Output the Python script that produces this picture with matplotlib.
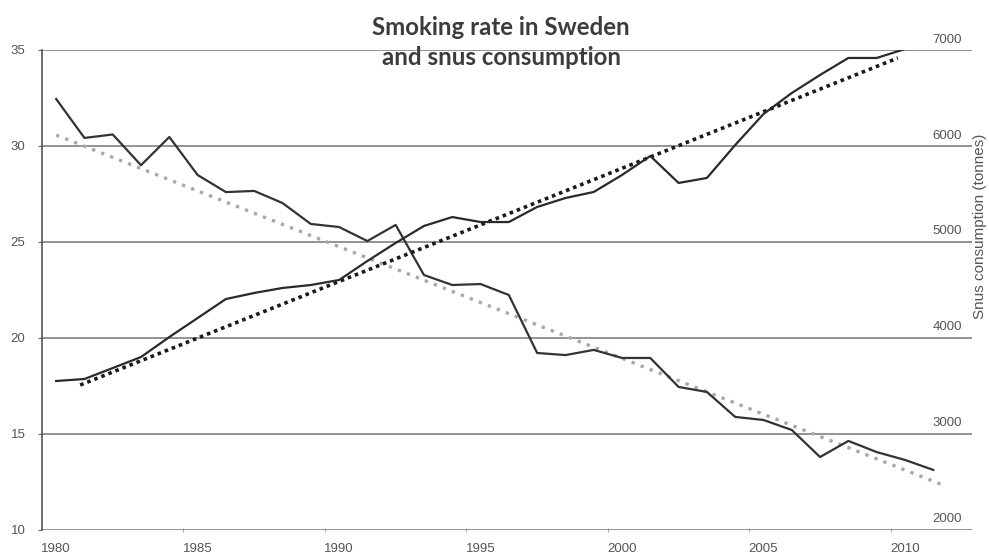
import numpy as np
import matplotlib
matplotlib.use("Agg")
import matplotlib.pyplot as plt
import matplotlib.transforms as mtransforms

# Smoking rate in Sweden (%), 1980-2011
smoke_years = list(range(1980, 2012))
smoking_rate = [32.45, 30.42, 30.6, 29.0, 30.47, 28.49, 27.6, 27.66, 27.03, 25.94,
                25.78, 25.05, 25.89, 23.28, 22.76, 22.81, 22.24, 19.22, 19.11, 19.38,
                18.96, 18.96, 17.45, 17.19, 15.89, 15.73, 15.21, 13.80, 14.64, 14.06,
                13.65, 13.13]

# Snus consumption (tonnes), 1980-2010
snus_years = list(range(1980, 2011))
snus_tonnes = [3552, 3573, 3687, 3802, 4010, 4208, 4406, 4469, 4521, 4552,
               4604, 4802, 4990, 5167, 5260, 5208, 5208, 5365, 5458, 5521,
               5698, 5896, 5615, 5667, 6010, 6333, 6552, 6740, 6917, 6917,
               7010]

# Linear trend lines: end points (year, value)
smoke_trend_years = [1980, 2011.35]
smoke_trend_values = [30.57, 12.34]
snus_trend_years = [1980.85, 2009.75]
snus_trend_values = [3510, 6917]

left_ticks = [10, 15, 20, 25, 30, 35]
right_ticks = [2000, 3000, 4000, 5000, 6000, 7000]
year_ticks = [1980, 1985, 1990, 1995, 2000, 2005, 2010]

title = "Smoking rate in Sweden\nand snus consumption"
right_label = "Snus consumption (tonnes)"

W, H = 989, 554
fig = plt.figure(figsize=(W / 100, H / 100), dpi=100)
ax = fig.add_axes([42 / W, 24 / H, 930 / W, 480 / H])
ax2 = ax.twinx()

label_color = "#555555"
grid_color = "#8a8a8a"
tick_font = dict(family="Liberation Sans", size=9.5)

# primary axis: smoking rate
ax.set_xlim(1979.5, 2012.37)
ax.set_ylim(10, 35)
ax.set_yticks(left_ticks)
ax.set_yticklabels([str(v) for v in left_ticks], color=label_color, **tick_font)
ax.set_xticks(year_ticks)
ax.set_xticklabels([str(v) for v in year_ticks], color=label_color, **tick_font)
ax.set_xticks([y - 0.5 for y in year_ticks[1:]], minor=True)
ax.tick_params(axis="x", which="major", length=0, pad=9)
ax.tick_params(axis="x", which="minor", length=3, color="#999999", direction="inout")
ax.tick_params(axis="y", which="major", length=3, color="#666666", pad=9)
ax.yaxis.grid(True, color=grid_color, linewidth=1.3)
ax.set_axisbelow(True)
for side in ("top", "right", "bottom"):
    ax.spines[side].set_visible(False)
ax.spines["left"].set_color("#555555")
ax.spines["left"].set_linewidth(1.2)

# secondary axis: snus consumption
ax2.set_ylim(2000, 7000)
ax2.set_yticks(right_ticks)
ax2.tick_params(axis="y", length=0, pad=-7.2)
for side in ("top", "right", "bottom", "left"):
    ax2.spines[side].set_visible(False)
shift = mtransforms.ScaledTranslation(0, 12 / 100, fig.dpi_scale_trans)
ax2.set_yticklabels([str(v) for v in right_ticks], color=label_color, **tick_font)
for lbl in ax2.get_yticklabels():
    lbl.set_horizontalalignment("right")
    lbl.set_transform(lbl.get_transform() + shift)

# data lines
ax.plot(smoke_years, smoking_rate, color="#333333", linewidth=1.6, zorder=3)
ax2.plot(snus_years, snus_tonnes, color="#2a2a2a", linewidth=1.6, zorder=3)

# linear trend lines
ax.plot(smoke_trend_years, smoke_trend_values, color="#a8a8a8", linewidth=2.4,
        linestyle=(0, (1, 1.9)), zorder=2)
ax2.plot(snus_trend_years, snus_trend_values, color="#1a1a1a", linewidth=2.6,
         linestyle=(0, (1, 1.1)), zorder=2)

# titles
fig.text(501 / W, 1 - 42.5 / H, title, ha="center", va="center",
         family="Lato", weight="bold", size=17.3, color="#3c3c3c",
         linespacing=1.42)
fig.text(980 / W, 1 - 226 / H, right_label, rotation=90, ha="center",
         va="center", color=label_color, family="Liberation Sans", size=11)

fig.savefig("out.png", dpi=100)
